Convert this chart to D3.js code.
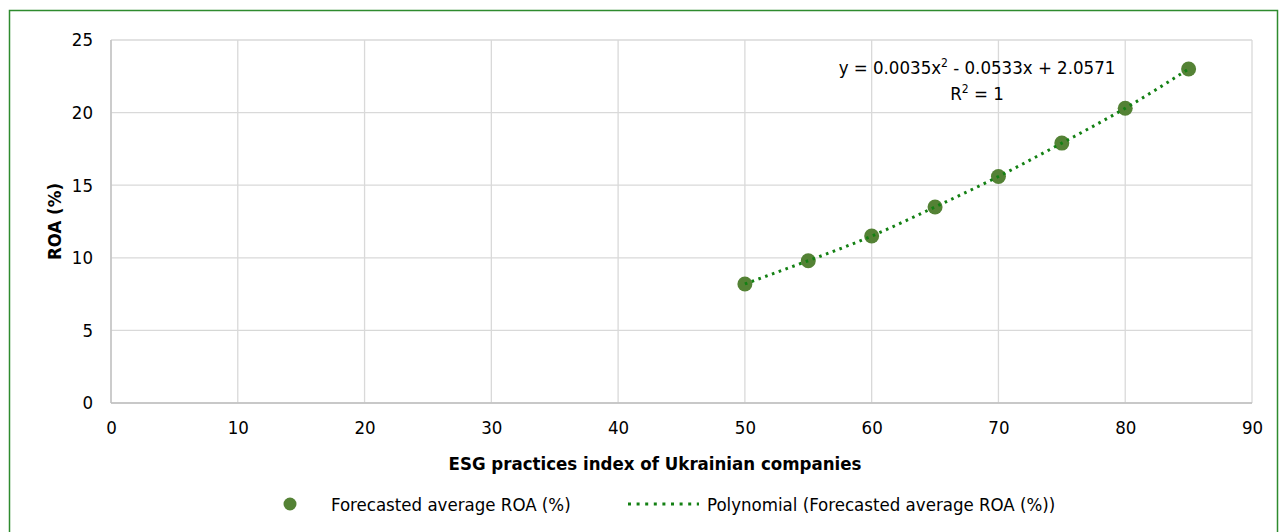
<!DOCTYPE html>
<html>
<head>
<meta charset="utf-8">
<script src="https://cdn.jsdelivr.net/npm/d3@7"></script>
<style>
  body { margin: 0; background: #fff; }
  text { font-family: "DejaVu Sans Condensed", "DejaVu Sans", sans-serif; fill: #000; }
</style>
</head>
<body>
<svg id="chart" width="1281" height="532"></svg>
<script>
// data
const esgIndex = [50, 55, 60, 65, 70, 75, 80, 85];
const roaValues = [8.2, 9.8, 11.5, 13.5, 15.6, 17.9, 20.3, 23.0];
const xTicks = [0, 10, 20, 30, 40, 50, 60, 70, 80, 90];
const yTicks = [0, 5, 10, 15, 20, 25];
const equationText = ["y = 0.0035x", "2", " - 0.0533x + 2.0571"];
const seriesName = "Forecasted average ROA (%)";
const trendName = "Polynomial (Forecasted average ROA (%))";

const svg = d3.select("#chart");
const plot = { left: 111, right: 1252, top: 40, bottom: 403 };
const markerColor = "#548235";
const trendColor = "#138013";
const fontSize = 18.5;
const fontFamily = "\"DejaVu Sans Condensed\", \"DejaVu Sans\", sans-serif";

// outer frame
svg.append("rect")
    .attr("x", 9.5).attr("y", 10.5)
    .attr("width", 1268).attr("height", 530)
    .attr("fill", "none")
    .attr("stroke", "#2e8b2e")
    .attr("stroke-width", 1.5);

const xScale = d3.scaleLinear().domain([0, 90]).range([plot.left, plot.right]);
const yScale = d3.scaleLinear().domain([0, 25]).range([plot.bottom, plot.top]);

// gridlines
svg.append("g")
    .selectAll("line")
    .data(xTicks)
    .join("line")
    .attr("x1", d => xScale(d)).attr("x2", d => xScale(d))
    .attr("y1", plot.top).attr("y2", plot.bottom)
    .attr("stroke", "#d9d9d9").attr("stroke-width", 1.3);

svg.append("g")
    .selectAll("line")
    .data(yTicks)
    .join("line")
    .attr("x1", plot.left).attr("x2", plot.right)
    .attr("y1", d => yScale(d)).attr("y2", d => yScale(d))
    .attr("stroke", "#d9d9d9").attr("stroke-width", 1.3);

// axis lines
svg.append("line")
    .attr("x1", plot.left).attr("x2", plot.right)
    .attr("y1", plot.bottom).attr("y2", plot.bottom)
    .attr("stroke", "#bfbfbf").attr("stroke-width", 1.3);
svg.append("line")
    .attr("x1", plot.left).attr("x2", plot.left)
    .attr("y1", plot.top).attr("y2", plot.bottom)
    .attr("stroke", "#bfbfbf").attr("stroke-width", 1.3);

// tick labels
const xAxis = d3.axisBottom(xScale).tickValues(xTicks).tickSize(0).tickPadding(18);
svg.append("g")
    .attr("transform", "translate(0," + plot.bottom + ")")
    .call(xAxis)
    .attr("font-size", fontSize)
    .attr("font-family", fontFamily)
    .call(g => g.select(".domain").remove());

const yAxis = d3.axisLeft(yScale).tickValues(yTicks).tickSize(0).tickPadding(18);
svg.append("g")
    .attr("transform", "translate(" + plot.left + ",0)")
    .call(yAxis)
    .attr("font-size", fontSize)
    .attr("font-family", fontFamily)
    .call(g => g.select(".domain").remove());

// axis titles
svg.append("text")
    .attr("x", 655)
    .attr("y", 470)
    .attr("text-anchor", "middle")
    .attr("font-size", fontSize)
    .attr("font-weight", "bold")
    .text("ESG practices index of Ukrainian companies");

svg.append("text")
    .attr("transform", "translate(61," + (plot.top + plot.bottom) / 2 + ") rotate(-90)")
    .attr("text-anchor", "middle")
    .attr("font-size", fontSize)
    .attr("font-weight", "bold")
    .text("ROA (%)");

// points
const points = esgIndex.map((x, i) => ({ x: x, y: roaValues[i] }));

svg.append("g")
    .selectAll("circle")
    .data(points)
    .join("circle")
    .attr("cx", d => xScale(d.x))
    .attr("cy", d => yScale(d.y))
    .attr("r", 7.5)
    .attr("fill", markerColor);

// dotted trendline through the points
const line = d3.line()
    .x(d => xScale(d.x))
    .y(d => yScale(d.y))
    .curve(d3.curveNatural);

svg.append("path")
    .datum(points)
    .attr("d", line)
    .attr("fill", "none")
    .attr("stroke", trendColor)
    .attr("stroke-width", 3)
    .attr("stroke-dasharray", "2.6 4.6");

// equation label
const eq = svg.append("text")
    .attr("x", 977).attr("y", 74)
    .attr("text-anchor", "middle")
    .attr("font-size", fontSize);
eq.append("tspan").text(equationText[0]);
eq.append("tspan").attr("dy", -7).attr("font-size", 12).text(equationText[1]);
eq.append("tspan").attr("dy", 7).text(equationText[2]);

const r2 = svg.append("text")
    .attr("x", 977).attr("y", 100)
    .attr("text-anchor", "middle")
    .attr("font-size", fontSize);
r2.append("tspan").text("R");
r2.append("tspan").attr("dy", -7).attr("font-size", 12).text("2");
r2.append("tspan").attr("dy", 7).text(" = 1");

// legend
const legend = svg.append("g").attr("transform", "translate(0,504)");
legend.append("circle")
    .attr("cx", 290).attr("cy", 0).attr("r", 6.5)
    .attr("fill", markerColor);
legend.append("text")
    .attr("x", 331).attr("y", 7)
    .attr("font-size", fontSize)
    .text(seriesName);
legend.append("line")
    .attr("x1", 628).attr("x2", 699)
    .attr("y1", 0).attr("y2", 0)
    .attr("stroke", trendColor)
    .attr("stroke-width", 3)
    .attr("stroke-dasharray", "3 5.6");
legend.append("text")
    .attr("x", 707).attr("y", 7)
    .attr("font-size", fontSize)
    .text(trendName);
</script>
</body>
</html>
